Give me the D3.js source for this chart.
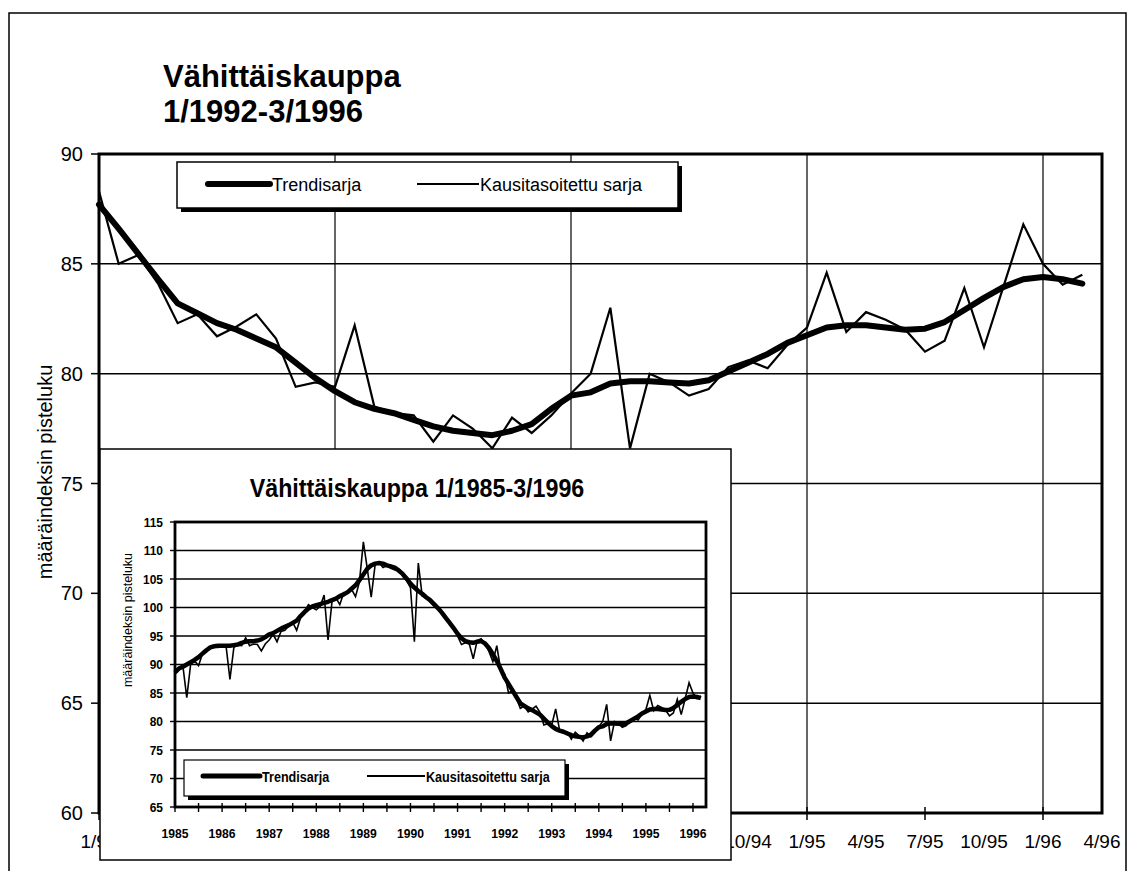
<!DOCTYPE html>
<html><head><meta charset="utf-8">
<script src="https://cdn.jsdelivr.net/npm/d3@7"></script>
<style>
body{margin:0;background:#fff}
svg{display:block}
text{font-family:"Liberation Sans",Arial,Helvetica,sans-serif;fill:#000}
</style>
</head><body>
<svg id="c" width="1128" height="871"></svg>
<script>
// ---------- DATA ----------
const mainTitle = ["Vähittäiskauppa", "1/1992-3/1996"];
const insetTitle = "Vähittäiskauppa 1/1985-3/1996";
const yAxisTitle = "määräindeksin pisteluku";
const seriesNames = ["Trendisarja", "Kausitasoitettu sarja"];

// main chart x tick labels (every 3 months, 1/92 .. 4/96)
const mainTickLabels = ["1/92","4/92","7/92","10/92","1/93","4/93","7/93","10/93","1/94","4/94","7/94","10/94","1/95","4/95","7/95","10/95","1/96","4/96"];
const mainYTicks = [60, 65, 70, 75, 80, 85, 90];

// monthly values 1/1992 .. 3/1996
const trend9296 = [87.7, 86.6, 85.45, 84.3, 83.2, 82.75, 82.3, 82.0, 81.6, 81.2, 80.5, 79.8,
  79.2, 78.7, 78.4, 78.2, 77.9, 77.6, 77.4, 77.3, 77.2, 77.4, 77.7, 78.4,
  79.0, 79.15, 79.55, 79.65, 79.65, 79.6, 79.55, 79.7, 80.1, 80.5, 80.9, 81.4,
  81.75, 82.1, 82.2, 82.2, 82.1, 82.0, 82.05, 82.35, 82.9, 83.45, 83.95, 84.3,
  84.4, 84.3, 84.1];
const sa9296 = [88.3, 85.0, 85.4, 84.1, 82.3, 82.7, 81.7, 82.15, 82.7, 81.6, 79.4, 79.6,
  79.4, 82.2, 78.5, 78.2, 78.1, 76.9, 78.1, 77.5, 76.6, 78.0, 77.3, 78.1,
  79.1, 80.0, 83.0, 76.6, 80.0, 79.6, 79.0, 79.3, 80.3, 80.6, 80.25, 81.3,
  82.1, 84.6, 81.9, 82.8, 82.45, 82.0, 81.0, 81.5, 83.9, 81.2, 84.0, 86.8,
  85.0, 84.05, 84.5];

// monthly values 1/1985 .. 12/1991 (inset)
const trend8591 = [88.6, 89.3, 89.6, 90.0, 90.4, 90.8, 91.3, 91.9, 92.5, 93.0, 93.2, 93.3,
  93.3, 93.3, 93.3, 93.4, 93.5, 93.8, 94.0, 94.1, 94.1, 94.2, 94.4, 94.8,
  95.3, 95.5, 95.9, 96.3, 96.6, 96.9, 97.3, 97.7, 98.5, 99.2, 99.8, 100.2,
  100.4, 100.6, 100.8, 101.0, 101.3, 101.55, 102.0, 102.3, 102.7, 103.3, 103.9, 104.8,
  105.8, 106.8, 107.4, 107.7, 107.8, 107.7, 107.4, 107.2, 107.0, 106.5, 105.9, 105.1,
  104.2, 103.5, 102.9, 102.4, 101.8, 101.3, 100.6, 99.9, 99.1, 98.2, 97.3, 96.4,
  95.4, 94.6, 94.1, 93.9, 93.8, 94.0, 94.1, 93.7, 92.9, 91.8, 90.6, 89.2];
const sa8591 = [88.3, 89.5, 89.8, 84.2, 90.1, 90.6, 89.8, 91.9, 92.2, 93.0, 93.1, 93.0,
  93.2, 93.3, 87.4, 93.0, 93.4, 93.3, 94.7, 93.3, 93.6, 93.5, 92.4, 93.6,
  94.3, 95.3, 94.0, 95.8, 96.0, 96.8, 97.4, 96.0, 98.2, 99.3, 100.5, 100.0,
  99.6, 100.2, 102.2, 94.3, 101.0, 101.7, 100.5, 102.6, 102.5, 103.2, 101.9, 104.5,
  111.5, 106.8, 101.8, 107.5, 107.9, 107.0, 107.3, 106.9, 106.6, 106.8, 105.5, 104.7,
  103.5, 94.0, 107.8, 102.0, 101.8, 101.0, 100.3, 99.8, 99.0, 98.4, 97.1, 96.5,
  95.0, 93.5, 93.8, 93.6, 91.0, 94.2, 94.5, 93.6, 92.3, 90.5, 93.3, 89.0];

const insetYears = ["1985","1986","1987","1988","1989","1990","1991","1992","1993","1994","1995","1996"];
const insetYTicks = [65, 70, 75, 80, 85, 90, 95, 100, 105, 110, 115];

// ---------- DRAW ----------
const svg = d3.select("#c");
const K = "#000";

// outer frame
svg.append("path").attr("d","M9,871 L9,13 L1126,13 L1126,871")
  .attr("fill","none").attr("stroke",K).attr("stroke-width",1.5);

// main title (two lines)
mainTitle.forEach((t,i)=>{
  svg.append("text").attr("x",163).attr("y",87+i*35)
    .attr("font-size",31).attr("font-weight","bold").text(t);
});

// ---- main chart ----
const M = {l:99, r:1102, t:154, b:813};
const x = d3.scaleLinear().domain([0,51]).range([M.l, M.r]);
const y = d3.scaleLinear().domain([60,90]).range([M.b, M.t]);
const gMain = svg.append("g");

// horizontal gridlines
gMain.selectAll(".hg").data(mainYTicks).join("line")
  .attr("x1",M.l).attr("x2",M.r).attr("y1",d=>y(d)).attr("y2",d=>y(d))
  .attr("stroke",K).attr("stroke-width",1.5);
// vertical gridlines at each January
gMain.selectAll(".vg").data([12,24,36,48]).join("line")
  .attr("x1",d=>x(d)).attr("x2",d=>x(d)).attr("y1",M.t).attr("y2",M.b)
  .attr("stroke",K).attr("stroke-width",1.2);
// y ticks & labels
gMain.selectAll(".yt").data(mainYTicks).join("line")
  .attr("x1",M.l-8).attr("x2",M.l).attr("y1",d=>y(d)).attr("y2",d=>y(d))
  .attr("stroke",K).attr("stroke-width",1.5);
gMain.selectAll(".yl").data(mainYTicks).join("text")
  .attr("x",83).attr("y",d=>y(d)+7).attr("text-anchor","end")
  .attr("font-size",20).text(d=>d);
// x ticks every 6 months
gMain.selectAll(".xt").data(d3.range(0,52,6)).join("line")
  .attr("x1",d=>x(d)).attr("x2",d=>x(d)).attr("y1",M.b-6).attr("y2",M.b+7)
  .attr("stroke",K).attr("stroke-width",1.5);
// x labels every 3 months (those fully under the inset are hidden, as in the reference)
const insetRight = 731;
const xLab = mainTickLabels.map((t,i)=>({t, m:i*3}))
  .filter(d => d.m === 0 || x(d.m) > insetRight);
gMain.selectAll(".xl").data(xLab).join("text")
  .attr("x",d=>x(d.m)).attr("y",848).attr("text-anchor","middle")
  .attr("font-size",19).text(d=>d.t);
// plot border
gMain.append("rect").attr("x",M.l).attr("y",M.t).attr("width",M.r-M.l).attr("height",M.b-M.t)
  .attr("fill","none").attr("stroke",K).attr("stroke-width",3);

// series
const lineMain = d3.line().x((d,i)=>x(i)).y(d=>y(d));
gMain.append("path").datum(trend9296).attr("d",lineMain)
  .attr("fill","none").attr("stroke",K).attr("stroke-width",6).attr("stroke-linejoin","round").attr("stroke-linecap","round");
gMain.append("path").datum(sa9296).attr("d",lineMain)
  .attr("fill","none").attr("stroke",K).attr("stroke-width",2.2).attr("stroke-linejoin","miter");

// main legend
gMain.append("rect").attr("x",181).attr("y",166).attr("width",501).attr("height",46).attr("fill",K);
gMain.append("rect").attr("x",177).attr("y",162).attr("width",501).attr("height",46)
  .attr("fill","#fff").attr("stroke",K).attr("stroke-width",1.5);
gMain.append("line").attr("x1",208).attr("x2",270).attr("y1",184).attr("y2",184)
  .attr("stroke",K).attr("stroke-width",6).attr("stroke-linecap","round");
gMain.append("text").attr("x",272).attr("y",191).attr("font-size",18).text(seriesNames[0]);
gMain.append("line").attr("x1",417).attr("x2",479).attr("y1",184).attr("y2",184)
  .attr("stroke",K).attr("stroke-width",2.2);
gMain.append("text").attr("x",480).attr("y",191).attr("font-size",18).text(seriesNames[1]);

// main y-axis title
svg.append("text").attr("transform","translate(52,472) rotate(-90)")
  .attr("text-anchor","middle").attr("font-size",20).text(yAxisTitle);

// ---- inset ----
const gI = svg.append("g");
gI.append("rect").attr("x",100).attr("y",449).attr("width",insetRight-100).attr("height",411)
  .attr("fill","#fff").attr("stroke",K).attr("stroke-width",1.5);
gI.append("text").attr("transform","translate(417,497) scale(0.93,1)")
  .attr("text-anchor","middle").attr("font-size",25).attr("font-weight","bold").text(insetTitle);

const I = {l:175, r:706, t:522, b:807};
const xi = d3.scaleLinear().domain([0,132]).range([175,693]);
const yi = d3.scaleLinear().domain([65,115]).range([I.b, I.t]);

gI.selectAll(".ihg").data(insetYTicks).join("line")
  .attr("x1",I.l).attr("x2",I.r).attr("y1",d=>yi(d)).attr("y2",d=>yi(d))
  .attr("stroke",K).attr("stroke-width",1.4);
gI.selectAll(".iyt").data(insetYTicks).join("line")
  .attr("x1",I.l-5).attr("x2",I.l).attr("y1",d=>yi(d)).attr("y2",d=>yi(d))
  .attr("stroke",K).attr("stroke-width",1.4);
gI.selectAll(".iyl").data(insetYTicks).join("text")
  .attr("transform",d=>`translate(163,${yi(d)+4.5}) scale(0.92,1)`).attr("text-anchor","end")
  .attr("font-size",13).attr("font-weight","bold").text(d=>d);
gI.selectAll(".ixt").data(d3.range(0,135,6)).join("line")
  .attr("x1",d=>xi(d)).attr("x2",d=>xi(d)).attr("y1",I.b-4).attr("y2",I.b+5)
  .attr("stroke",K).attr("stroke-width",1.4);
gI.selectAll(".ixl").data(insetYears).join("text")
  .attr("transform",(d,i)=>`translate(${xi(i*12)},838) scale(0.9,1)`).attr("text-anchor","middle")
  .attr("font-size",13.5).attr("font-weight","bold").text(d=>d);
gI.append("rect").attr("x",I.l).attr("y",I.t).attr("width",I.r-I.l).attr("height",I.b-I.t)
  .attr("fill","none").attr("stroke",K).attr("stroke-width",2.8);

const insetTrend = trend8591.concat(trend9296);
const insetSA = sa8591.concat(sa9296);
const lineI = d3.line().x((d,i)=>xi(i)).y(d=>yi(d));
gI.append("path").datum(insetTrend).attr("d",lineI)
  .attr("fill","none").attr("stroke",K).attr("stroke-width",4.5).attr("stroke-linejoin","round");
gI.append("path").datum(insetSA).attr("d",lineI)
  .attr("fill","none").attr("stroke",K).attr("stroke-width",1.6);

// inset legend
gI.append("rect").attr("x",188).attr("y",764).attr("width",381).attr("height",36).attr("fill",K);
gI.append("rect").attr("x",184).attr("y",760).attr("width",381).attr("height",36)
  .attr("fill","#fff").attr("stroke",K).attr("stroke-width",1.2);
gI.append("line").attr("x1",203).attr("x2",260).attr("y1",776).attr("y2",776)
  .attr("stroke",K).attr("stroke-width",5).attr("stroke-linecap","round");
gI.append("text").attr("transform","translate(262,782) scale(0.9,1)")
  .attr("font-size",14).attr("font-weight","bold").text(seriesNames[0]);
gI.append("line").attr("x1",367).attr("x2",425).attr("y1",776).attr("y2",776)
  .attr("stroke",K).attr("stroke-width",2);
gI.append("text").attr("transform","translate(426,782) scale(0.9,1)")
  .attr("font-size",14).attr("font-weight","bold").text(seriesNames[1]);

// inset y-axis title
gI.append("text").attr("transform","translate(132,620) rotate(-90)")
  .attr("text-anchor","middle").attr("font-size",12.5).text(yAxisTitle);
</script>
</body></html>
